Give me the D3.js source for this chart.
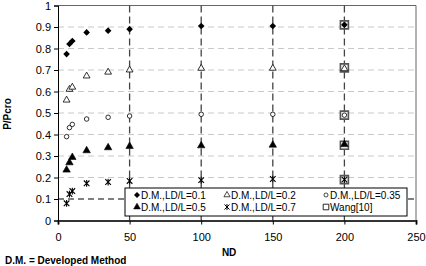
<!DOCTYPE html>
<html>
<head>
<meta charset="utf-8">
<script src="https://cdn.jsdelivr.net/npm/d3@7"></script>
<style>
  body { margin: 0; background: #fff; }
  text { font-family: "Liberation Sans", Arial, sans-serif; }
</style>
</head>
<body>
<svg id="chart" width="426" height="266"></svg>
<script>
// data
var ndValues = [6, 8, 10, 20, 35, 50, 100, 150, 200];
var ld01 = [0.774, 0.821, 0.835, 0.875, 0.883, 0.89, 0.905, 0.905, 0.91];
var ld02 = [0.56, 0.61, 0.62, 0.672, 0.69, 0.70, 0.708, 0.708, 0.706];
var ld035 = [0.39, 0.432, 0.447, 0.472, 0.48, 0.486, 0.494, 0.494, 0.49];
var ld05 = [0.235, 0.269, 0.294, 0.325, 0.339, 0.345, 0.348, 0.351, 0.354];
var ld07 = [0.08, 0.123, 0.137, 0.173, 0.179, 0.184, 0.188, 0.193, 0.19];
var wangND = [200, 200, 200, 200, 200];
var wangP = [0.91, 0.71, 0.49, 0.35, 0.19];
var dashedND = [50, 100, 150, 200];
var refLineP = 0.1;
var xTicks = [0, 50, 100, 150, 200, 250];
var yTicks = [0, 0.1, 0.2, 0.3, 0.4, 0.5, 0.6, 0.7, 0.8, 0.9, 1];
var legendLabels = ["D.M.,LD/L=0.1", "D.M.,LD/L=0.2", "D.M.,LD/L=0.35",
                    "D.M.,LD/L=0.5", "D.M.,LD/L=0.7", "Wang[10]"];

var margin = {top: 5.5, right: 10, bottom: 45.5, left: 58};
var width = 426 - margin.left - margin.right,
    height = 266 - margin.top - margin.bottom;

var root = d3.select("#chart");
var svg = root.append("g")
    .attr("transform", "translate(" + margin.left + "," + margin.top + ")");

var xScale = d3.scaleLinear().domain([0, 250]).range([0, width]);
var yScale = d3.scaleLinear().domain([0, 1]).range([height, 0]);

// light gridlines
svg.append("g").selectAll("line")
    .data(yTicks.filter(function(d) { return d > 0 && d < 1 && d !== refLineP; }))
    .enter().append("line")
    .attr("x1", 0).attr("x2", width)
    .attr("y1", function(d) { return yScale(d); })
    .attr("y2", function(d) { return yScale(d); })
    .attr("stroke", "#c8c8c8")
    .attr("stroke-dasharray", "6,4");

// frame top/right
svg.append("path")
    .attr("d", "M0,0H" + width + "V" + height)
    .attr("fill", "none")
    .attr("stroke", "#666")
    .attr("stroke-width", 1);

// vertical dashed lines
svg.append("g").selectAll("line")
    .data(dashedND)
    .enter().append("line")
    .attr("x1", function(d) { return xScale(d); })
    .attr("x2", function(d) { return xScale(d); })
    .attr("y1", 0).attr("y2", height)
    .attr("stroke", "#444")
    .attr("stroke-width", 1.3)
    .attr("stroke-dasharray", "7,4");

// horizontal reference line
svg.append("line")
    .attr("x1", 0).attr("x2", width)
    .attr("y1", yScale(refLineP)).attr("y2", yScale(refLineP))
    .attr("stroke", "#000")
    .attr("stroke-width", 1.1)
    .attr("stroke-dasharray", "6,4");

// axes
var xAxis = d3.axisBottom(xScale).tickValues(xTicks).tickSize(4).tickFormat(d3.format("d"));
var yAxis = d3.axisLeft(yScale).tickValues(yTicks).tickSize(4)
    .tickFormat(function(d) { return d === 0 ? "0" : d === 1 ? "1" : d3.format(".1f")(d); });

var gx = svg.append("g")
    .attr("transform", "translate(0," + height + ")")
    .call(xAxis);
gx.select(".domain").attr("stroke", "#333").attr("stroke-width", 2);
gx.selectAll(".tick line").attr("stroke", "#000");
gx.selectAll(".tick text").attr("font-size", "11px").attr("dy", "1.2em")
    .attr("font-family", "Liberation Sans, Arial, sans-serif").attr("fill", "#000");

var gy = svg.append("g").call(yAxis);
gy.select(".domain").attr("stroke", "#000");
gy.selectAll(".tick line").attr("stroke", "#000");
gy.selectAll(".tick text").attr("font-size", "11px").attr("x", -7)
    .attr("font-family", "Liberation Sans, Arial, sans-serif").attr("fill", "#000");

// axis titles
svg.append("text")
    .attr("transform", "translate(" + (-47) + "," + (height / 2 + 1) + ") rotate(-90)")
    .attr("text-anchor", "middle")
    .attr("font-size", "10px")
    .attr("font-weight", "bold")
    .text("P/Pcro");

svg.append("text")
    .attr("x", xScale(119.5))
    .attr("y", height + 35)
    .attr("text-anchor", "middle")
    .attr("font-size", "10px")
    .attr("font-weight", "bold")
    .text("ND");

root.append("text")
    .attr("x", 5)
    .attr("y", 264)
    .attr("font-size", "10px")
    .attr("font-weight", "bold")
    .text("D.M. = Developed Method");

// markers
var asteriskPath = function(s) {
    return "M" + (-s) + "," + (-s) + "L" + s + "," + s +
           "M" + (-s) + "," + s + "L" + s + "," + (-s) +
           "M0," + (-s * 1.2) + "L0," + (s * 1.2);
};
var diamondPath = function(s) {
    return "M0," + (-s) + "L" + s + ",0L0," + s + "L" + (-s) + ",0Z";
};
var markers = [
    {d: diamondPath(3.3), fill: "#000", stroke: "none", sw: 0},
    {d: d3.symbol().type(d3.symbolTriangle).size(20)(), fill: "#fff", stroke: "#000", sw: 0.8},
    {d: d3.symbol().type(d3.symbolCircle).size(16)(), fill: "#fff", stroke: "#000", sw: 0.8},
    {d: d3.symbol().type(d3.symbolTriangle).size(24)(), fill: "#000", stroke: "#000", sw: 0.6},
    {d: asteriskPath(2.8), fill: "none", stroke: "#000", sw: 1.1},
    {d: d3.symbol().type(d3.symbolSquare).size(64)(), fill: "#f0f0f0", stroke: "#555", sw: 1.6}
];

// Wang squares behind
svg.append("g").selectAll("path")
    .data(wangND.map(function(x, i) { return {x: x, y: wangP[i]}; }))
    .enter().append("path")
    .attr("d", markers[5].d)
    .attr("transform", function(d) { return "translate(" + xScale(d.x) + "," + yScale(d.y) + ")"; })
    .attr("fill", markers[5].fill)
    .attr("stroke", markers[5].stroke)
    .attr("stroke-width", markers[5].sw);

var seriesList = [ld01, ld02, ld035, ld05, ld07];
seriesList.forEach(function(vals, si) {
    svg.append("g").selectAll("path")
        .data(vals.map(function(v, i) { return {x: ndValues[i], y: v}; }))
        .enter().append("path")
        .attr("d", markers[si].d)
        .attr("transform", function(d) { return "translate(" + xScale(d.x) + "," + yScale(d.y) + ")"; })
        .attr("fill", markers[si].fill)
        .attr("stroke", markers[si].stroke)
        .attr("stroke-width", markers[si].sw);
});

// legend
var legend = root.append("g").attr("transform", "translate(125,188)");
legend.append("rect")
    .attr("width", 282).attr("height", 28)
    .attr("fill", "#fff").attr("stroke", "#000").attr("stroke-width", 1);

var colX = [12, 102, 201];
var rowY = [7, 19];
legendLabels.forEach(function(lab, i) {
    var col = i < 3 ? i : i - 3;
    var row = i < 3 ? 0 : 1;
    var item = legend.append("g")
        .attr("transform", "translate(" + colX[col] + "," + rowY[row] + ")");
    item.append("path")
        .attr("d", markers[i].d)
        .attr("transform", i === 5 ? "scale(0.7)" : "scale(0.9)")
        .attr("fill", i === 5 ? "#fff" : markers[i].fill)
        .attr("stroke", i === 5 ? "#000" : markers[i].stroke)
        .attr("stroke-width", i === 5 ? 1.2 : markers[i].sw);
    item.append("text")
        .attr("x", 4)
        .attr("y", 3.6)
        .attr("font-size", "10px")
        .text(lab);
});
</script>
</body>
</html>
